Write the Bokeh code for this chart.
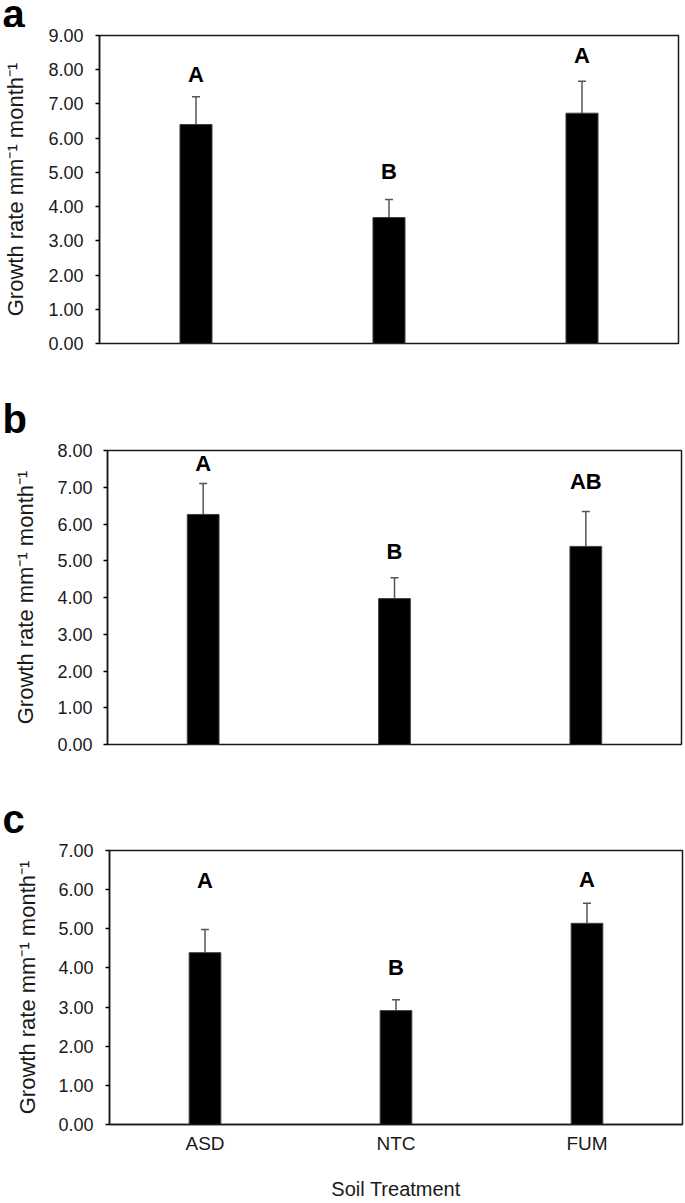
from bokeh.plotting import figure
from bokeh.models import (ColumnDataSource, Whisker, TeeHead, Label, FactorRange,
                          FixedTicker, NumeralTickFormatter, Range1d)
from bokeh.layouts import column
from bokeh.embed import file_html
from bokeh.resources import INLINE
from bokeh.core.properties import value

# ---------------- data ----------------
treatments = ["ASD", "NTC", "FUM"]

panel_a_mean = [6.40, 3.68, 6.73]
panel_a_se = [0.81, 0.53, 0.93]
panel_a_letters = ["A", "B", "A"]
panel_a_letter_y = [7.85, 5.03, 8.42]
panel_a_ymax = 9

panel_b_mean = [6.26, 3.97, 5.39]
panel_b_se = [0.84, 0.57, 0.95]
panel_b_letters = ["A", "B", "AB"]
panel_b_letter_y = [7.64, 5.24, 7.15]
panel_b_ymax = 8

panel_c_mean = [4.39, 2.91, 5.14]
panel_c_se = [0.59, 0.28, 0.51]
panel_c_letters = ["A", "B", "A"]
panel_c_letter_y = [6.24, 4.00, 6.27]
panel_c_ymax = 7

panel_tags = ["a", "b", "c"]
y_label = "Growth rate mm\u207b\u00b9 month\u207b\u00b9"
x_label = "Soil Treatment"

FONT = "Liberation Sans"
W = 684


def no_align(fig):
    # keep each figure's own borders (do not line frames up across the column)
    if "frame_align" in fig.properties():
        fig.frame_align = False
    return fig


def make_strip(tag, height, anchor, size):
    """Thin band that carries the panel letter (a, b, c)."""
    s = figure(width=W, height=height, x_range=Range1d(0, W), y_range=Range1d(0, height),
               output_backend="svg", toolbar_location=None,
               x_axis_location=None, y_axis_location=None, min_border=0)
    s.outline_line_color = None
    s.background_fill_color = "white"
    s.border_fill_color = "white"
    s.xgrid.visible = False
    s.ygrid.visible = False
    s.add_layout(Label(x=2, y=anchor, x_units="data", y_units="data", text=tag,
                       text_font=FONT, text_font_size=size, text_font_style="bold",
                       text_color="black", text_align="left",
                       text_baseline="bottom"))
    return no_align(s)


def make_panel(means, ses, letters, letter_y, ymax, height, border_top,
               border_bottom, border_left, border_right, tick_gap, label_gap, show_x):
    tops = [m + s for m, s in zip(means, ses)]
    src = ColumnDataSource(dict(x=treatments, mean=means, top=tops,
                                letter=letters, ly=letter_y))
    p = figure(width=W, height=height, x_range=FactorRange(*treatments, range_padding=0),
               y_range=Range1d(0, ymax), output_backend="svg", toolbar_location=None,
               x_axis_location="below" if show_x else None,
               min_border_top=border_top, min_border_bottom=border_bottom,
               min_border_left=border_left, min_border_right=border_right)
    p.background_fill_color = "white"
    p.border_fill_color = "white"
    p.outline_line_color = "#1a1a1a"
    p.outline_line_width = 1.5
    p.xgrid.visible = False
    p.ygrid.visible = False

    p.vbar(x="x", top="mean", width=0.166, bottom=0, source=src,
           fill_color="black", line_color="#404040", line_width=1)
    w = Whisker(base="x", lower="mean", upper="top", source=src, dimension="height",
                line_color="#555555", line_width=1.5,
                upper_head=TeeHead(size=8, line_color="#555555", line_width=1.5),
                lower_head=None)
    p.add_layout(w)
    p.text(x="x", y="ly", text="letter", source=src, text_align="center",
           text_baseline="middle", text_font=value(FONT), text_font_size="22px",
           text_font_style="bold", text_color="black")

    ya = p.yaxis[0]
    ya.ticker = FixedTicker(ticks=list(range(0, ymax + 1)))
    ya.formatter = NumeralTickFormatter(format="0.00")
    ya.major_tick_out = 4
    ya.major_tick_in = 0
    ya.minor_tick_out = 0
    ya.minor_tick_in = 0
    ya.major_tick_line_width = 1.5
    ya.axis_line_width = 1.5
    ya.axis_line_color = "#1a1a1a"
    ya.major_label_text_font = FONT
    ya.major_label_text_font_size = "18px"
    ya.major_label_text_color = "#1a1a1a"
    ya.major_label_standoff = tick_gap
    ya.axis_label = y_label
    ya.axis_label_text_font = FONT
    ya.axis_label_text_font_size = "22px"
    ya.axis_label_text_font_style = "normal"
    ya.axis_label_text_color = "#1a1a1a"
    ya.axis_label_standoff = label_gap

    if show_x:
        xa = p.xaxis[0]
        xa.major_tick_out = 0
        xa.major_tick_in = 0
        xa.axis_line_width = 1.5
        xa.axis_line_color = "#1a1a1a"
        xa.major_label_text_font = FONT
        xa.major_label_text_font_size = "19px"
        xa.major_label_text_color = "#1a1a1a"
        xa.major_label_standoff = 8
        xa.axis_label = x_label
        xa.axis_label_text_font = FONT
        xa.axis_label_text_font_size = "20px"
        xa.axis_label_text_font_style = "normal"
        xa.axis_label_text_color = "#1a1a1a"
        xa.axis_label_standoff = 21
    return no_align(p)


strip_a = make_strip(panel_tags[0], height=27, anchor=-8, size="40px")
pa = make_panel(panel_a_mean, panel_a_se, panel_a_letters, panel_a_letter_y,
                panel_a_ymax, height=328, border_top=8, border_bottom=12,
                border_left=98, border_right=6, tick_gap=12, label_gap=17,
                show_x=False)
strip_b = make_strip(panel_tags[1], height=85, anchor=-0.5, size="40px")
pb = make_panel(panel_b_mean, panel_b_se, panel_b_letters, panel_b_letter_y,
                panel_b_ymax, height=316, border_top=10, border_bottom=12,
                border_left=107, border_right=3, tick_gap=11, label_gap=16,
                show_x=False)
strip_c = make_strip(panel_tags[2], height=84, anchor=-0.5, size="40px")
pc = make_panel(panel_c_mean, panel_c_se, panel_c_letters, panel_c_letter_y,
                panel_c_ymax, height=362, border_top=10, border_bottom=78,
                border_left=109, border_right=2, tick_gap=12, label_gap=15,
                show_x=True)

layout = column(strip_a, pa, strip_b, pb, strip_c, pc, spacing=0)
open("out.html", "w").write(file_html(layout, INLINE))
